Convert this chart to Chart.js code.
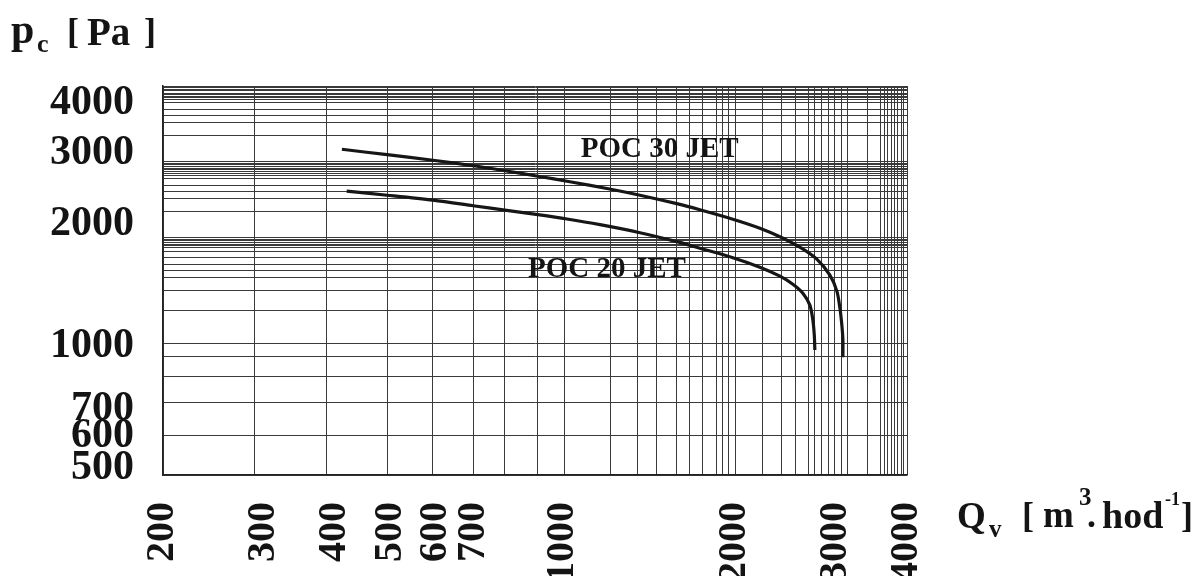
<!DOCTYPE html>
<html lang="cs">
<head>
  <meta charset="UTF-8" />
  <title>POC JET - charakteristika</title>
  <script src="https://cdn.jsdelivr.net/npm/chart.js"></script>
  <style>
    body { margin: 0; background: #fff; }
    #wrap { position: relative; width: 1200px; height: 576px; }
    canvas { position: absolute; left: 0; top: 0; }
    .t {
      position: absolute;
      font-family: "Liberation Serif", "Times New Roman", serif;
      font-weight: bold;
      color: #141414;
      line-height: 1;
      white-space: nowrap;
    }
  </style>
</head>
<body>
<div id="wrap">
  <canvas id="chart" width="1200" height="576"></canvas>

  <!-- y title: p_c [ Pa ] -->
  <span class="t" style="left:11px; top:8px; font-size:42px;">p</span>
  <span class="t" style="left:37px; top:31px; font-size:26px;">c</span>
  <span class="t" style="left:67px; top:13px; font-size:36px;">[</span>
  <span class="t" style="left:87px; top:12px; font-size:39px;">Pa</span>
  <span class="t" style="left:144px; top:13px; font-size:36px;">]</span>

  <!-- x title: Q_v [ m^3. hod^-1 ] -->
  <span class="t" style="left:957px; top:497px; font-size:37px;">Q</span>
  <span class="t" style="left:989px; top:516px; font-size:25px;">v</span>
  <span class="t" style="left:1022px; top:497px; font-size:36px;">[</span>
  <span class="t" style="left:1043px; top:496px; font-size:37px;">m</span>
  <span class="t" style="left:1079px; top:484px; font-size:25px;">3</span>
  <span class="t" style="left:1087px; top:497px; font-size:36px;">.</span>
  <span class="t" style="left:1102px; top:496px; font-size:38px;">hod</span>
  <span class="t" style="left:1165px; top:490px; font-size:18px;">-1</span>
  <span class="t" style="left:1181px; top:497px; font-size:36px;">]</span>
</div>

<script>
  // osa x - prutok Qv [m3/hod]
  const flowTicks = [200, 300, 400, 500, 600, 700, 1000, 2000, 3000, 4000];
  const flowGrid = [200, 289, 387, 493, 593, 697, 792, 905, 1009, 1214, 1349, 1461, 1583, 1668,
    1759, 1860, 1906, 1952, 2008, 2238, 2417, 2556, 2695, 2760, 2839, 2920, 2991, 3077, 3152,
    3416, 3600, 3654, 3702, 3752, 3804, 3855, 3906, 3950, 4000];

  // osa y - tlak pc [Pa]
  const pressureTicks = [500, 600, 700, 1000, 2000, 3000, 4000];
  const pressureGrid = [480, 600, 724, 842, 941, 1015, 1226, 1373, 1479, 1535, 1595, 1657, 1717,
    1754, 1770, 1787, 1805, 1821, 1839, 1860, 2153, 2319, 2407, 2501, 2598, 2647, 2673, 2697,
    2728, 2755, 2781, 2807, 2834, 2862, 3318, 3573, 3709, 3853, 4004, 4072, 4110, 4150, 4190,
    4228, 4277, 4318, 4360, 4400];

  // krivky ventilatoru
  const poc30Flow = [411, 493, 593, 697, 792, 905, 1029, 1214, 1365, 1583, 1737, 1984, 2212,
    2398, 2598, 2782, 2932, 3016, 3053, 3077, 3090, 3090];
  const poc30Pressure = [3069, 2975, 2883, 2794, 2716, 2632, 2551, 2444, 2362, 2251, 2175, 2061,
    1958, 1865, 1757, 1641, 1498, 1368, 1242, 1127, 1035, 939];

  const poc20Flow = [419, 493, 593, 697, 792, 905, 1017, 1162, 1365, 1583, 1737, 1984, 2212,
    2398, 2526, 2630, 2705, 2738, 2754, 2760];
  const poc20Pressure = [2417, 2362, 2296, 2225, 2169, 2114, 2063, 1997, 1908, 1813, 1747, 1655,
    1568, 1490, 1423, 1352, 1263, 1160, 1064, 978];

  const seriesNames = ['POC 30 JET', 'POC 20 JET'];

  const toPoints = (xs, ys) => xs.map((x, i) => ({ x: x, y: ys[i] }));
  const union = (a, b) => Array.from(new Set(a.concat(b))).sort((p, q) => p - q);

  const flowGridSet = new Set(flowGrid);
  const flowTickSet = new Set(flowTicks);
  const pressureGridSet = new Set(pressureGrid);
  const pressureTickSet = new Set(pressureTicks);

  const GRID = '#3a3a3a';
  const FONT = '"Liberation Serif", "Times New Roman", serif';

  // popisky krivek (kotva v datovych jednotkach)
  const curveLabels = {
    id: 'curveLabels',
    afterDatasetsDraw(chart) {
      const { ctx, scales } = chart;
      const anchors = [[1478, 3069], [1195, 1549]];
      ctx.save();
      ctx.fillStyle = '#141414';
      ctx.font = 'bold 29px ' + FONT;
      ctx.textAlign = 'center';
      ctx.textBaseline = 'middle';
      seriesNames.forEach((name, i) => {
        ctx.fillText(name, scales.x.getPixelForValue(anchors[i][0]), scales.y.getPixelForValue(anchors[i][1]));
      });
      ctx.restore();
    }
  };

  const ctx = document.getElementById('chart').getContext('2d');

  new Chart(ctx, {
    type: 'line',
    data: {
      datasets: [
        { label: seriesNames[0], data: toPoints(poc30Flow, poc30Pressure) },
        { label: seriesNames[1], data: toPoints(poc20Flow, poc20Pressure) }
      ]
    },
    options: {
      responsive: false,
      animation: false,
      devicePixelRatio: 1,
      layout: { padding: { left: 0, right: 293, top: 86, bottom: 0 } },
      elements: {
        line: { borderColor: '#161616', borderWidth: 3.2, tension: 0.3, fill: false },
        point: { radius: 0, hoverRadius: 0 }
      },
      plugins: {
        legend: { display: false },
        tooltip: { enabled: false }
      },
      scales: {
        x: {
          type: 'logarithmic',
          min: 200,
          max: 4000,
          afterBuildTicks: s => { s.ticks = union(flowGrid, flowTicks).map(v => ({ value: v })); },
          afterFit: s => { s.height = 101; },
          grid: {
            drawTicks: false,
            lineWidth: 1,
            color: c => (c.tick && flowGridSet.has(c.tick.value)) ? GRID : 'rgba(0,0,0,0)'
          },
          border: { display: true, color: '#222', width: 1.5 },
          ticks: {
            autoSkip: false,
            minRotation: 90,
            maxRotation: 90,
            padding: 27,
            color: '#141414',
            font: { family: FONT, size: 40, weight: 'bold' },
            callback: v => flowTickSet.has(v) ? String(v) : ''
          }
        },
        y: {
          type: 'logarithmic',
          min: 480,
          max: 4400,
          afterBuildTicks: s => { s.ticks = union(pressureGrid, pressureTicks).map(v => ({ value: v })); },
          afterFit: s => { s.width = 163; },
          grid: {
            drawTicks: false,
            lineWidth: 1,
            color: c => (c.tick && pressureGridSet.has(c.tick.value)) ? GRID : 'rgba(0,0,0,0)'
          },
          border: { display: true, color: '#222', width: 1.5 },
          ticks: {
            autoSkip: false,
            padding: 29,
            color: '#141414',
            font: { family: FONT, size: 42, weight: 'bold' },
            callback: v => pressureTickSet.has(v) ? String(v) : ''
          }
        }
      }
    },
    plugins: [curveLabels]
  });
</script>
</body>
</html>
